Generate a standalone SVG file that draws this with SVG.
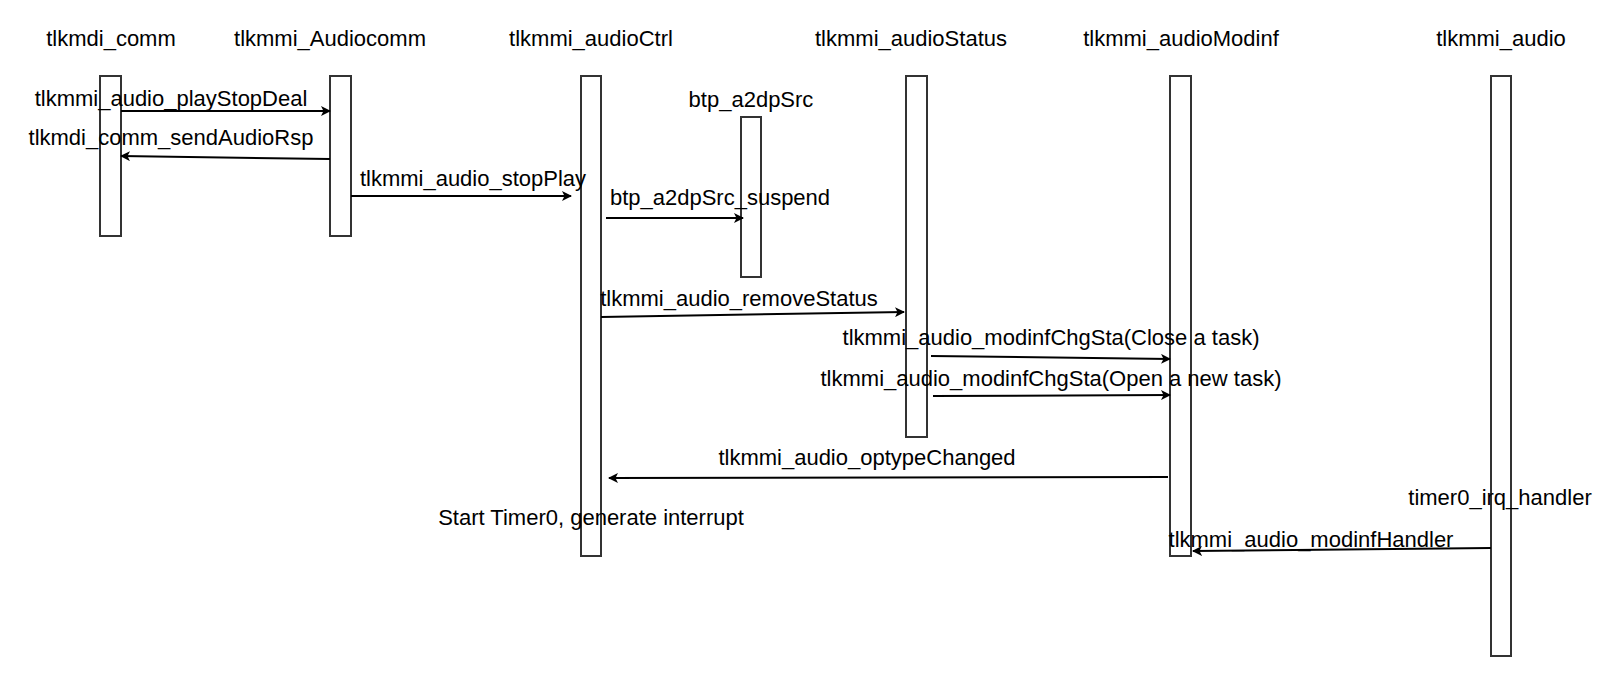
<svg xmlns="http://www.w3.org/2000/svg" width="1618" height="674" viewBox="0 0 1618 674">
<style>
text{font-family:"Liberation Sans",Arial,sans-serif;font-size:22px;fill:#000;text-anchor:middle;dominant-baseline:central}
.bar{fill:#fff;stroke:#333;stroke-width:2}
.c{fill:none;stroke:#000;stroke-width:2;marker-end:url(#a)}
</style>
<defs><marker id="a" viewBox="0 0 10 10" refX="9" refY="5" markerWidth="10" markerHeight="10" markerUnits="userSpaceOnUse" orient="auto"><path d="M0,0 L10,5 L0,10 L2.5,5 Z" fill="#000"/></marker></defs>
<rect width="1618" height="674" fill="#fff"/>
<g id="comm"><text x="111" y="38">tlkmdi_comm</text><rect class="bar" x="100" y="76" width="21" height="160"/></g>
<g id="audiocomm"><text x="330" y="38">tlkmmi_Audiocomm</text><rect class="bar" x="330" y="76" width="21" height="160"/></g>
<g id="audioctrl"><text x="591" y="38">tlkmmi_audioCtrl</text><rect class="bar" x="581" y="76" width="20" height="480"/></g>
<g id="a2dpsrc"><text x="751" y="99">btp_a2dpSrc</text><rect class="bar" x="741" y="117" width="20" height="160"/></g>
<g id="audiostatus"><text x="911" y="38">tlkmmi_audioStatus</text><rect class="bar" x="906" y="76" width="21" height="361"/></g>
<g id="audiomodinf"><text x="1181" y="38">tlkmmi_audioModinf</text><rect class="bar" x="1170" y="76" width="21" height="480"/></g>
<g id="audio"><text x="1501" y="38">tlkmmi_audio</text><rect class="bar" x="1491" y="76" width="20" height="580"/></g>
<g id="connectors">
<path class="c" d="M121,111 L330,111"/>
<path class="c" d="M330,159 L121,156"/>
<path class="c" d="M351,196 L571,196"/>
<path class="c" d="M606,218 L743,218"/>
<path class="c" d="M601,317 L904,312"/>
<path class="c" d="M931,356 L1170,359"/>
<path class="c" d="M933,396 L1170,395"/>
<path class="c" d="M1168,477 L609,478"/>
<path class="c" d="M1491,548 L1193,551"/>
<text x="171" y="98">tlkmmi_audio_playStopDeal</text>
<text x="171" y="137">tlkmdi_comm_sendAudioRsp</text>
<text x="473" y="178">tlkmmi_audio_stopPlay</text>
<text x="720" y="197">btp_a2dpSrc_suspend</text>
<text x="739" y="298">tlkmmi_audio_removeStatus</text>
<text x="1051" y="337">tlkmmi_audio_modinfChgSta(Close a task)</text>
<text x="1051" y="378">tlkmmi_audio_modinfChgSta(Open a new task)</text>
<text x="867" y="457">tlkmmi_audio_optypeChanged</text>
<text x="591" y="517">Start Timer0, generate interrupt</text>
<text x="1500" y="497">timer0_irq_handler</text>
<text x="1311" y="539">tlkmmi_audio_modinfHandler</text>
</g>
</svg>
